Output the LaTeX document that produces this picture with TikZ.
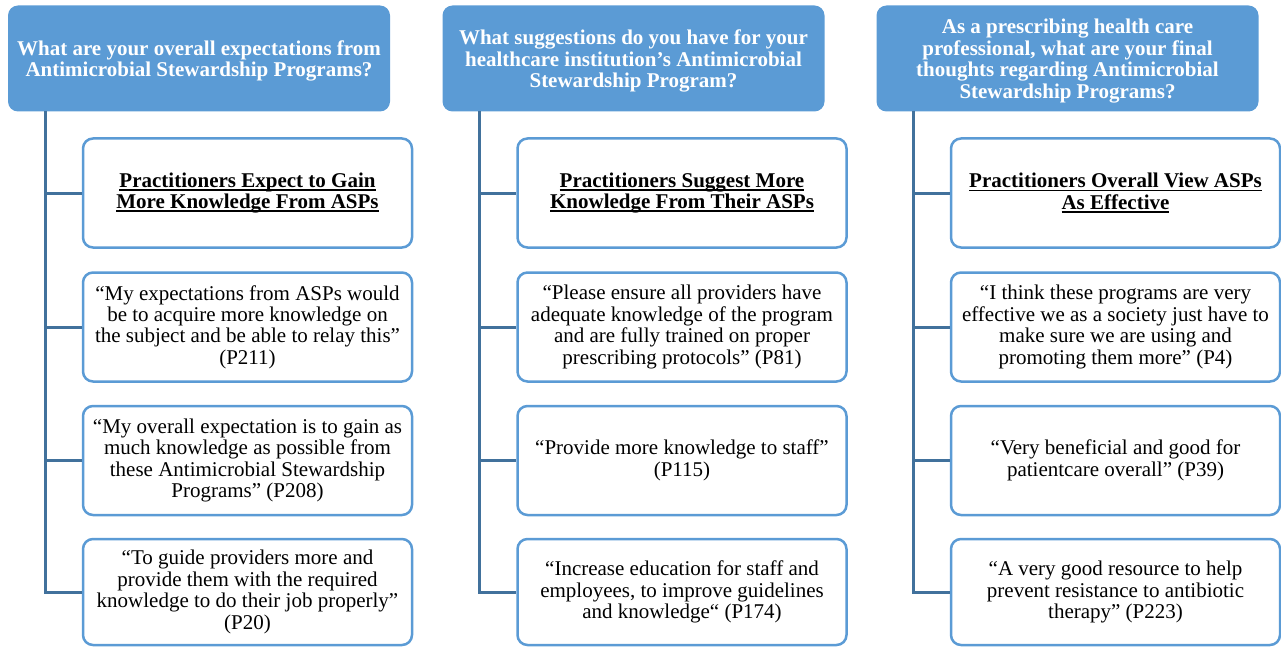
\documentclass[tikz,border=0pt]{standalone}
\usepackage{fontspec}
\setmainfont{Liberation Serif}
\definecolor{hdrblue}{HTML}{5B9BD5}
\definecolor{linkblue}{HTML}{41719C}
% underline placed just under the baseline
\newcommand{\ulline}[1]{\setbox0\hbox{#1}\rlap{\rule[-3.6pt]{\wd0}{1.8pt}}\box0}

\begin{document}
\begin{tikzpicture}[x=1pt,y=-1pt,
  every node/.style={font=\fontsize{21}{21.4}\selectfont, align=center, inner sep=0pt},
  header/.style={fill=hdrblue, draw=none, rounded corners=10pt,
    minimum width=382pt, minimum height=106pt},
  headertext/.style={text=white, font=\fontsize{21}{21.4}\selectfont\bfseries},
  card/.style={draw=hdrblue, line width=2.5pt, fill=white, rounded corners=10pt,
    minimum width=329pt, minimum height=109pt},
  theme/.style={card, font=\fontsize{21}{21.4}\selectfont\bfseries},
  link/.style={draw=linkblue, line width=3pt}]
\useasboundingbox (0,0) rectangle (1281,647);

% ---- question headers ----
\node[header] (h1) at (199,58.5) {};
\node[header] (h2) at (633.5,58.5) {};
\node[header] (h3) at (1067.5,58.5) {};
\node[headertext] (q1) at ([yshift=-2.5pt]h1.center) {What are your overall expectations from\\Antimicrobial Stewardship Programs?};
\node[headertext] (q2) at ([yshift=-2.5pt]h2.center) {What suggestions do you have for your\\healthcare institution’s Antimicrobial\\Stewardship Program?};
\node[headertext] (q3) at ([yshift=-2.5pt]h3.center) {As a prescribing health care\\professional, what are your final\\thoughts regarding Antimicrobial\\Stewardship Programs?};

% ---- column 1 ----
\node[theme] (c11) at (247.5,193) {\ulline{Practitioners Expect to Gain}\\\ulline{More Knowledge From ASPs}};
\node[card] (c12) at (247.5,327) {“My expectations from ASPs would\\be to acquire more knowledge on\\the subject and be able to relay this”\\(P211)};
\node[card] (c13) at (247.5,460.5) {“My overall expectation is to gain as\\much knowledge as possible from\\these Antimicrobial Stewardship\\Programs” (P208)};
\node[card, minimum height=106pt] (c14) at (247.5,592) {“To guide providers more and\\provide them with the required\\knowledge to do their job properly”\\(P20)};

% ---- column 2 ----
\node[theme] (c21) at (682,193) {\ulline{Practitioners Suggest More}\\\ulline{Knowledge From Their ASPs}};
\node[card] (c22) at (682,327) {“Please ensure all providers have\\adequate knowledge of the program\\and are fully trained on proper\\prescribing protocols” (P81)};
\node[card] (c23) at (682,460.5) {“Provide more knowledge to staff”\\(P115)};
\node[card, minimum height=106pt] (c24) at (682,592) {“Increase education for staff and\\employees, to improve guidelines\\and knowledge“ (P174)};

% ---- column 3 ----
\node[theme] (c31) at (1115.5,193) {\ulline{Practitioners Overall View ASPs}\\\ulline{As Effective}};
\node[card] (c32) at (1115.5,327) {“I think these programs are very\\effective we as a society just have to\\make sure we are using and\\promoting them more” (P4)};
\node[card] (c33) at (1115.5,460.5) {“Very beneficial and good for\\patientcare overall” (P39)};
\node[card, minimum height=106pt] (c34) at (1115.5,592) {“A very good resource to help\\prevent resistance to antibiotic\\therapy” (P223)};

% ---- trunks and branches ----
\coordinate (t1) at (45,111.5);
\coordinate (t2) at (479,111.5);
\coordinate (t3) at (913,111.5);
\foreach \t/\c in {t1/c1, t2/c2, t3/c3}{
  \foreach \k in {1,2,3,4}{
    \draw[link] (\t) |- (\c\k.west);
  }
}
\end{tikzpicture}
\end{document}
